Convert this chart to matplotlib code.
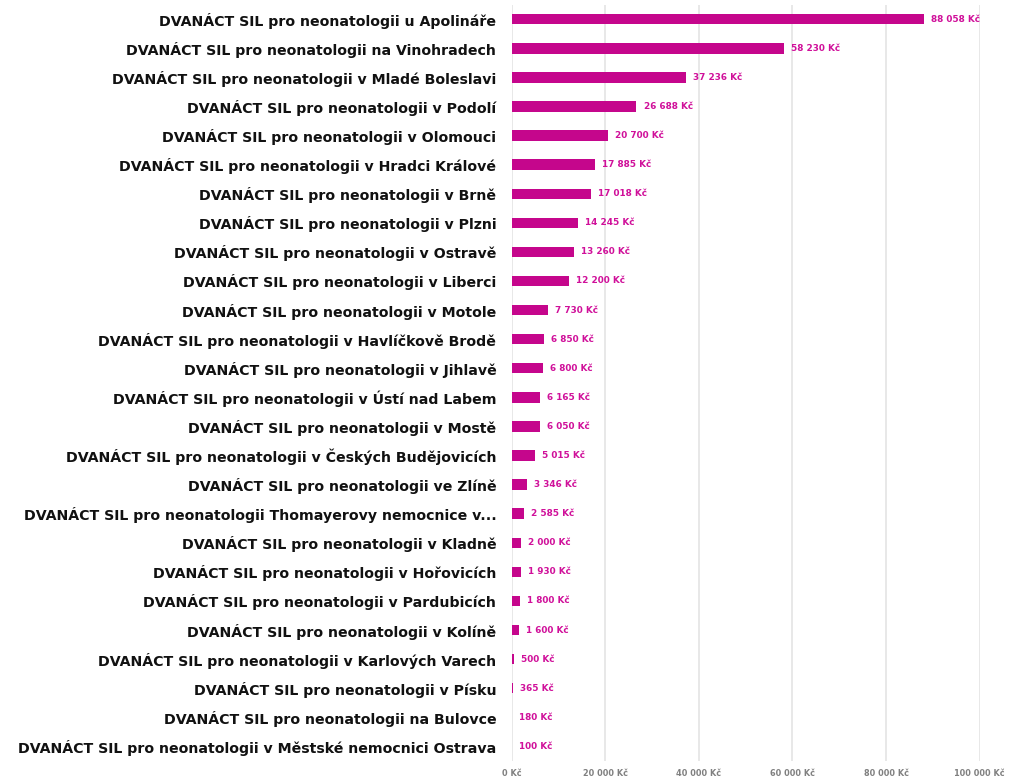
import matplotlib.pyplot as plt
import numpy as np

plt.rcParams['font.family'] = ['DejaVu Sans']

mista = ["u Apolináře", "na Vinohradech", "v Mladé Boleslavi", "v Podolí", "v Olomouci",
         "v Hradci Králové", "v Brně", "v Plzni", "v Ostravě", "v Liberci", "v Motole",
         "v Havlíčkově Brodě", "v Jihlavě", "v Ústí nad Labem", "v Mostě",
         "v Českých Budějovicích", "ve Zlíně", "Thomayerovy nemocnice v...", "v Kladně",
         "v Hořovicích", "v Pardubicích", "v Kolíně", "v Karlových Varech", "v Písku",
         "na Bulovce", "v Městské nemocnici Ostrava"]
castky = [88058, 58230, 37236, 26688, 20700, 17885, 17018, 14245, 13260, 12200, 7730,
          6850, 6800, 6165, 6050, 5015, 3346, 2585, 2000, 1930, 1800, 1600, 500, 365,
          180, 100]
ticks = [0, 20000, 40000, 60000, 80000, 100000]

labels = ["DVANÁCT SIL pro neonatologii " + m for m in mista]

def kc(v):
    return "{:,}".format(v).replace(",", " ") + " Kč"

fig = plt.figure(figsize=(10.11, 7.82), dpi=100)
ax = fig.add_axes([0.506, 0.027, 0.463, 0.967])

y = np.arange(len(castky))
ax.barh(y, castky, height=0.36, color='#c5068c', zorder=3)
for yi, v in zip(y, castky):
    ax.text(v + 1500, yi, kc(v), va='center', ha='left', fontsize=6.4,
            fontweight='bold', color='#d0109a')

ax.set_yticks(y)
ax.set_yticklabels(labels, fontsize=10.2, fontweight='bold', color='#111111')
ax.set_ylim(len(castky) - 0.5, -0.5)
ax.set_xlim(0, 100000)
ax.set_xticks(ticks)
ax.set_xticklabels([kc(t) for t in ticks], fontsize=5.9, fontweight='bold', color='#808080')
ax.tick_params(length=0)
ax.tick_params(axis='x', pad=6)
ax.tick_params(axis='y', pad=11)
ax.grid(axis='x', color='#e4e4e4', linewidth=1.2, zorder=0)
for s in ax.spines.values():
    s.set_visible(False)

plt.savefig('out.png')
